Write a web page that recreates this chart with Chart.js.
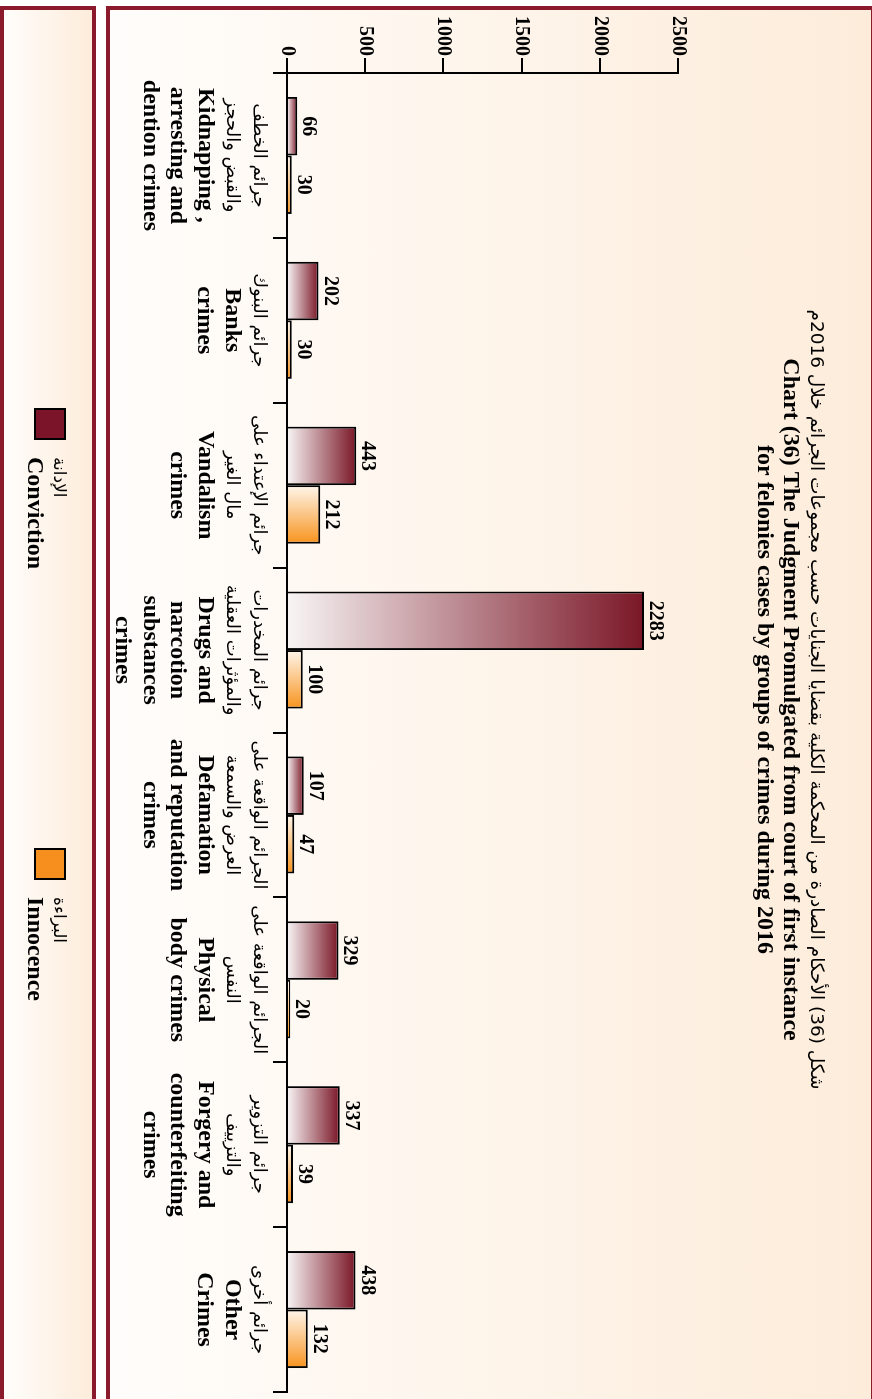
<!DOCTYPE html>
<html>
<head>
<meta charset="utf-8">
<script src="https://cdn.jsdelivr.net/npm/chart.js@4.4.1/dist/chart.umd.min.js"></script>
<style>
    html, body { margin: 0; padding: 0; background: #fff; overflow: hidden; }
    body { width: 872px; height: 1399px; position: relative; }
    /* chart is laid out landscape, then turned a quarter clockwise */
    #stage {
        position: absolute; left: 0; top: 0;
        width: 1399px; height: 872px; overflow: hidden;
        transform-origin: 0 0;
        transform: translate(872px, 0) rotate(90deg);
    }
    .panel {
        position: absolute; box-sizing: border-box;
        border: 4px solid #8a1a2c;
        background: linear-gradient(to top, #fffdfb, #fdecda);
    }
    #main { left: 6px; top: -3px; width: 1420px; height: 769px; }
    #legend-box { left: 6px; top: 776px; width: 1420px; height: 96px; }
    canvas { position: absolute; left: 0; top: 0; }
</style>
</head>
<body>
<div id="stage">
    <div class="panel" id="main"></div>
    <div class="panel" id="legend-box"></div>
    <canvas id="judgment-chart" width="1399" height="872"></canvas>
</div>
<script>
const titleAr = 'شكل (36) الأحكام الصادرة من المحكمة الكلية بقضايا الجنايات حسب مجموعات الجرائم خلال 2016م';
const titleEn = ['Chart (36) The Judgment Promulgated from court of first instance',
                 'for felonies cases by groups of crimes during 2016'];

const categoriesAr = [
    ['جرائم الخطف', 'والقبض والحجز'],
    ['جرائم البنوك'],
    ['جرائم الإعتداء على', 'مال الغير'],
    ['جرائم المخدرات', 'والمؤثرات العقلية'],
    ['الجرائم الواقعة على', 'العرض والسمعة'],
    ['الجرائم الواقعة على', 'النفس'],
    ['جرائم التزوير', 'والتزييف'],
    ['جرائم أخرى']
];
const categoriesEn = [
    ['Kidnapping ,', 'arresting and', 'dention crimes'],
    ['Banks', 'crimes'],
    ['Vandalism', 'crimes'],
    ['Drugs and', 'narcotion', 'substances', 'crimes'],
    ['Defamation', 'and reputation', 'crimes'],
    ['Physical', 'body crimes'],
    ['Forgery and', 'counterfeiting', 'crimes'],
    ['Other', 'Crimes']
];

const conviction = [66, 202, 443, 2283, 107, 329, 337, 438];
const innocence = [30, 30, 212, 100, 47, 20, 39, 132];

const seriesEn = ['Conviction', 'Innocence'];
const seriesAr = ['الإدانة', 'البراءة'];

const yMax = 2500;
const yStep = 500;

const SERIF = "'Liberation Serif', 'Times New Roman', serif";
const ARABIC = "'DejaVu Sans', sans-serif";
const CAT_PCT = 0.71;

function barSpan(chart, index, dsIndex) {
    const xs = chart.scales.x;
    const step = xs.width / chart.data.labels.length;
    const center = xs.getPixelForValue(index);
    const group = step * CAT_PCT;
    const left = center - group / 2 + dsIndex * group / 2;
    return { left: left, right: left + group / 2 };
}

function convictionFill(context) {
    const chart = context.chart;
    if (!chart.chartArea || context.type !== 'data') return '#7a1626';
    const ys = chart.scales.y;
    const base = ys.getPixelForValue(0);
    const top = ys.getPixelForValue(context.raw);
    const g = chart.ctx.createLinearGradient(0, base, 0, top);
    g.addColorStop(0, '#f8f5f5');
    g.addColorStop(1, '#7a1626');
    return g;
}

function innocenceFill(context) {
    const chart = context.chart;
    if (!chart.chartArea || context.type !== 'data') return '#f7931d';
    const span = barSpan(chart, context.dataIndex, 1);
    const g = chart.ctx.createLinearGradient(span.left, 0, span.right, 0);
    g.addColorStop(0, '#fff6ec');
    g.addColorStop(1, '#f7931d');
    return g;
}

// title, category labels, value labels and legend drawn on the canvas
const textPlugin = {
    id: 'textPlugin',
    afterDraw(chart) {
        const ctx = chart.ctx;
        ctx.save();
        ctx.fillStyle = '#000';
        ctx.textAlign = 'center';
        ctx.textBaseline = 'middle';

        // title
        const cx = chart.width / 2;
        ctx.direction = 'rtl';
        ctx.font = '18.5px ' + ARABIC;
        ctx.fillText(titleAr, cx, 56);
        ctx.direction = 'ltr';
        ctx.font = 'bold 24px ' + SERIF;
        titleEn.forEach((line, i) => ctx.fillText(line, cx, 82 + i * 26));

        // category labels under the axis
        const xs = chart.scales.x;
        categoriesAr.forEach((arLines, i) => {
            const x = xs.getPixelForValue(i);
            let y = 613;
            ctx.direction = 'rtl';
            ctx.font = '18px ' + ARABIC;
            arLines.forEach(line => { ctx.fillText(line, x, y); y += 27; });
            ctx.direction = 'ltr';
            ctx.font = 'bold 24px ' + SERIF;
            categoriesEn[i].forEach(line => { ctx.fillText(line, x, y); y += 27.5; });
        });

        // values above bars
        ctx.font = 'bold 20px ' + SERIF;
        ctx.textBaseline = 'alphabetic';
        chart.data.datasets.forEach((ds, di) => {
            chart.getDatasetMeta(di).data.forEach((bar, i) => {
                ctx.fillText(ds.data[i], bar.x, bar.y - 6);
            });
        });

        // legend
        const legendX = [409, 849];
        ctx.textBaseline = 'middle';
        chart.data.datasets.forEach((ds, di) => {
            const x = legendX[di];
            ctx.fillStyle = ds.legendColor;
            ctx.fillRect(x, 807, 30, 30);
            ctx.lineWidth = 2;
            ctx.strokeStyle = '#000';
            ctx.strokeRect(x, 807, 30, 30);
            ctx.fillStyle = '#000';
            ctx.direction = 'rtl';
            ctx.textAlign = 'right';
            ctx.font = '17px ' + ARABIC;
            const arW = ctx.measureText(seriesAr[di]).width;
            ctx.fillText(seriesAr[di], x + 48 + arW, 814);
            ctx.direction = 'ltr';
            ctx.textAlign = 'left';
            ctx.font = 'bold 24px ' + SERIF;
            ctx.fillText(seriesEn[di], x + 48, 838);
        });
        ctx.restore();
    }
};

const ctx = document.getElementById('judgment-chart').getContext('2d');
window.judgmentChart = new Chart(ctx, {
    type: 'bar',
    data: {
        labels: categoriesEn.map(l => l.join(' ')),
        datasets: [{
            label: seriesEn[0],
            data: conviction,
            backgroundColor: convictionFill,
            legendColor: '#7b1428',
            borderColor: '#000',
            borderWidth: 2,
            categoryPercentage: CAT_PCT,
            barPercentage: 1,
        }, {
            label: seriesEn[1],
            data: innocence,
            backgroundColor: innocenceFill,
            legendColor: '#f78f1e',
            borderColor: '#000',
            borderWidth: 2,
            categoryPercentage: CAT_PCT,
            barPercentage: 1,
        }],
    },
    options: {
        responsive: false,
        animation: false,
        layout: { padding: { top: 194, right: 7, left: 0, bottom: 0 } },
        plugins: {
            legend: { display: false },
            title: { display: false },
            tooltip: { enabled: false },
        },
        scales: {
            x: {
                ticks: { display: false },
                grid: { offset: true, drawOnChartArea: false, tickLength: 14, color: '#000', lineWidth: 2 },
                border: { color: '#000', width: 2 },
                afterFit(scale) { scale.height = 872 - 585; },
            },
            y: {
                min: 0,
                max: yMax,
                ticks: {
                    stepSize: yStep,
                    color: '#000',
                    padding: 2,
                    font: { family: SERIF, size: 20, weight: 'bold' },
                    callback: value => String(value),
                },
                grid: { drawOnChartArea: false, tickLength: 15, color: '#000', lineWidth: 2 },
                border: { color: '#000', width: 2 },
                afterFit(scale) { scale.width = 73; },
            },
        },
    },
    plugins: [textPlugin],
});
</script>
</body>
</html>
